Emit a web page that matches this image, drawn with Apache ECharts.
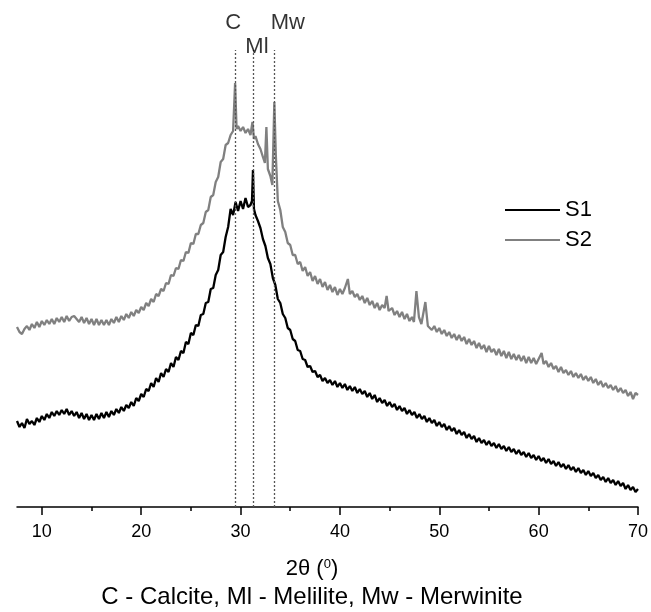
<!DOCTYPE html>
<html>
<head>
<meta charset="utf-8">
<script src="https://cdn.jsdelivr.net/npm/echarts@6/dist/echarts.min.js"></script>
<style>
html,body{margin:0;padding:0;background:#fff;}
#chart{width:651px;height:612px;}
</style>
</head>
<body>
<div id="chart"></div>
<script>
// X-ray diffraction patterns, [2θ (deg), intensity (a.u.)]
const s1 = [[7.5,86],[7.75,80],[8,84],[8.25,79],[8.5,88],[8.75,83],[9,86],[9.25,82],[9.5,89],[9.75,85],
[10,91],[10.25,87],[10.5,93],[10.75,89],[11,95],[11.25,91],[11.5,96],[11.75,92],[12,97],[12.25,93],
[12.5,98],[12.75,92],[13,96],[13.25,91],[13.5,95],[13.75,89],[14,94],[14.25,88],[14.5,93],[14.75,87],
[15,92],[15.25,87],[15.5,93],[15.75,88],[16,94],[16.25,89],[16.5,95],[16.75,90],[17,96],[17.25,92],
[17.5,98],[17.75,94],[18,100],[18.25,96],[18.5,102],[18.75,99],[19,105],[19.25,101],[19.5,109],[19.75,106],
[20,113],[20.25,110],[20.5,118],[20.75,116],[21,124],[21.25,120],[21.5,129],[21.75,125],[22,134],[22.25,130],
[22.5,138],[22.75,135],[23,144],[23.25,140],[23.5,150],[23.75,147],[24,156],[24.25,154],[24.5,165],[24.75,163],
[25,174],[25.25,172],[25.5,182],[25.75,181],[26,192],[26.25,193],[26.5,204],[26.75,205],[27,218],[27.25,219],
[27.5,232],[27.75,237],[28,252],[28.25,255],[28.5,270],[28.75,280],[29,298],[29.25,292],[29.5,305],[29.75,296],
[30,306],[30.25,298],[30.5,309],[30.75,300],[31,302],[31.15,306],[31.25,337],[31.35,298],[31.5,292],[31.75,286],
[32,279],[32.25,268],[32.5,261],[32.75,249],[33,243],[33.25,229],[33.5,222],[33.75,208],[34,204],[34.25,193],
[34.5,189],[34.75,179],[35,177],[35.25,168],[35.5,166],[35.75,157],[36,156],[36.25,148],[36.5,147],[36.75,140],
[37,141],[37.25,135],[37.5,136],[37.75,130],[38,132],[38.25,126],[38.5,129],[38.75,124],[39,127],[39.25,122],
[39.5,126],[39.75,120],[40,124],[40.25,119],[40.5,123],[40.75,117],[41,121],[41.25,116],[41.5,120],[41.75,114],
[42,118],[42.25,113],[42.5,116],[42.75,110],[43,114],[43.25,108],[43.5,112],[43.75,105],[44,109],[44.25,104],
[44.5,107],[44.75,101],[45,105],[45.25,100],[45.5,103],[45.75,97],[46,101],[46.25,96],[46.5,99],[46.75,93],
[47,97],[47.25,92],[47.5,95],[47.75,89],[48,93],[48.25,88],[48.5,91],[48.75,85],[49,89],[49.25,84],
[49.5,87],[49.75,81],[50,85],[50.25,80],[50.5,83],[50.75,77],[51,81],[51.25,76],[51.5,79],[51.75,73],
[52,77],[52.25,72],[52.5,75],[52.75,69],[53,73],[53.25,68],[53.5,71],[53.75,65],[54,69],[54.25,64],
[54.5,67],[54.75,62],[55,66],[55.25,61],[55.5,64],[55.75,59],[56,63],[56.25,58],[56.5,61],[56.75,56],
[57,60],[57.25,55],[57.5,58],[57.75,53],[58,57],[58.25,52],[58.5,55],[58.75,50],[59,54],[59.25,49],
[59.5,52],[59.75,47],[60,51],[60.25,46],[60.5,49],[60.75,44],[61,48],[61.25,43],[61.5,46],[61.75,41],
[62,45],[62.25,40],[62.5,43],[62.75,38],[63,42],[63.25,37],[63.5,40],[63.75,35],[64,39],[64.25,34],
[64.5,37],[64.75,32],[65,36],[65.25,31],[65.5,34],[65.75,29],[66,32],[66.25,27],[66.5,30],[66.75,25],
[67,29],[67.25,24],[67.5,27],[67.75,22],[68,26],[68.25,21],[68.5,24],[68.75,18],[69,22],[69.25,17],
[69.5,20],[69.75,15],[70,18]];

const s2 = [[7.5,180],[7.75,175],[8,173],[8.25,178],[8.5,181],[8.75,177],[9,183],[9.25,179],[9.5,185],[9.75,180],
[10,186],[10.25,182],[10.5,187],[10.75,183],[11,188],[11.25,183],[11.5,189],[11.75,185],[12,190],[12.25,185],
[12.5,191],[12.75,186],[13,190],[13.25,191],[13.5,188],[13.75,185],[14,190],[14.25,184],[14.5,189],[14.75,183],
[15,188],[15.25,182],[15.5,188],[15.75,182],[16,187],[16.25,182],[16.5,187],[16.75,182],[17,188],[17.25,184],
[17.5,190],[17.75,185],[18,191],[18.25,187],[18.5,193],[18.75,189],[19,195],[19.25,191],[19.5,197],[19.75,194],
[20,200],[20.25,197],[20.5,204],[20.75,201],[21,208],[21.25,205],[21.5,213],[21.75,211],[22,218],[22.25,216],
[22.5,224],[22.75,223],[23,232],[23.25,231],[23.5,239],[23.75,238],[24,247],[24.25,246],[24.5,255],[24.75,254],
[25,264],[25.25,263],[25.5,273],[25.75,273],[26,282],[26.25,284],[26.5,295],[26.75,297],[27,310],[27.25,312],
[27.5,325],[27.75,330],[28,345],[28.25,348],[28.5,362],[28.75,364],[29,372],[29.25,376],[29.45,424],[29.6,378],
[29.75,381],[30,376],[30.25,380],[30.5,374],[30.75,378],[31,372],[31.2,385],[31.35,368],[31.5,371],[31.75,363],
[32,358],[32.25,350],[32.45,344],[32.6,380],[32.75,338],[33,331],[33.2,322],[33.4,405],[33.55,352],[33.75,306],
[34,297],[34.25,280],[34.5,275],[34.75,264],[35,262],[35.25,252],[35.5,252],[35.75,243],[36,245],[36.25,236],
[36.5,240],[36.75,231],[37,235],[37.25,226],[37.5,231],[37.75,223],[38,228],[38.25,220],[38.5,225],[38.75,217],
[39,222],[39.25,215],[39.5,220],[39.75,212],[40,218],[40.25,213],[40.5,219],[40.8,228],[41,213],[41.25,216],
[41.5,210],[41.75,213],[42,207],[42.25,211],[42.5,204],[42.75,209],[43,202],[43.25,206],[43.5,199],[43.75,204],
[44,197],[44.25,202],[44.5,199],[44.7,211],[44.9,196],[45.25,199],[45.5,192],[45.75,196],[46,190],[46.25,195],
[46.5,188],[46.75,193],[47,186],[47.25,190],[47.45,185],[47.7,216],[47.95,190],[48.2,183],[48.6,205],[48.85,181],
[49,183],[49.25,177],[49.5,181],[49.75,175],[50,179],[50.25,173],[50.5,177],[50.75,171],[51,175],[51.25,169],
[51.5,173],[51.75,167],[52,172],[52.25,166],[52.5,170],[52.75,163],[53,168],[53.25,162],[53.5,166],[53.75,159],
[54,164],[54.25,158],[54.5,162],[54.75,155],[55,161],[55.25,155],[55.5,158],[55.75,152],[56,158],[56.25,151],
[56.5,156],[56.75,149],[57,155],[57.25,148],[57.5,153],[57.75,147],[58,152],[58.25,146],[58.5,151],[58.75,144],
[59,150],[59.25,144],[59.5,149],[59.75,143],[60,148],[60.3,154],[60.5,143],[60.75,146],[61,140],[61.25,144],
[61.5,138],[61.75,141],[62,135],[62.25,140],[62.5,134],[62.75,137],[63,132],[63.25,136],[63.5,130],[63.75,134],
[64,129],[64.25,133],[64.5,127],[64.75,131],[65,126],[65.25,130],[65.5,124],[65.75,128],[66,122],[66.25,126],
[66.5,120],[66.75,124],[67,119],[67.25,122],[67.5,117],[67.75,121],[68,115],[68.25,119],[68.5,114],[68.75,117],
[69,111],[69.25,115],[69.5,108],[69.75,114],[70,112]];

const seriesNames = ['S1', 'S2'];
const phaseNames = ['C', 'Ml', 'Mw'];
const phaseAngles = [29.45, 31.25, 33.35];
const markerTop = 457;
const phaseLabelLevels = [484, 460, 484];
const xTickValues = [10, 20, 30, 40, 50, 60, 70];
const xMinorTickValues = [15, 25, 35, 45, 55, 65];
const caption = 'C - Calcite, Ml - Melilite, Mw - Merwinite';

const FONT = 'Liberation Sans, Arial, sans-serif';
const chart = echarts.init(document.getElementById('chart'), null, {renderer: 'canvas'});

const labelOffsets = [[-2, 0], [4, 0], [14, 0]];

const option = {
  animation: false,
  backgroundColor: '#ffffff',
  title: [
    {
      text: '{t|2θ (}{sup|0}{t|)}',
      left: 312, top: 558, textAlign: 'center', padding: 0,
      textStyle: {
        fontWeight: 'normal',
        rich: {
          t: {fontFamily: FONT, fontSize: 22, fontWeight: 'normal', color: '#000'},
          sup: {fontFamily: FONT, fontSize: 13, fontWeight: 'normal', color: '#000', verticalAlign: 'top', padding: [0, 0, 9, 0]}
        }
      }
    },
    {
      text: caption,
      left: 312, top: 585, textAlign: 'center', padding: 0,
      textStyle: {fontFamily: FONT, fontSize: 24, fontWeight: 'normal', color: '#000'}
    }
  ],
  legend: {
    orient: 'vertical',
    left: 505, top: 199, padding: 0,
    itemWidth: 55, itemHeight: 2, itemGap: 8,
    icon: 'rect',
    data: seriesNames,
    textStyle: {fontFamily: FONT, fontSize: 22, color: '#000', lineHeight: 22}
  },
  grid: {left: 17, right: 11.5, top: 0, bottom: 105, containLabel: false},
  xAxis: [
    {
      type: 'value', min: 7.5, max: 70,
      axisLine: {show: true, onZero: false, lineStyle: {color: '#000', width: 1.5}},
      axisTick: {show: true, length: 8, customValues: xTickValues, lineStyle: {color: '#000', width: 1.5}},
      axisLabel: {customValues: xTickValues, margin: 16, fontFamily: FONT, fontSize: 18, color: '#000'},
      splitLine: {show: false}
    },
    {
      type: 'value', min: 7.5, max: 70, position: 'bottom',
      axisLine: {show: false},
      axisTick: {show: true, length: 4, customValues: xMinorTickValues, lineStyle: {color: '#000', width: 1.5}},
      axisLabel: {show: false},
      splitLine: {show: false}
    }
  ],
  yAxis: {type: 'value', min: 0, max: 507, show: false, splitLine: {show: false}},
  series: [
    {
      name: seriesNames[0], type: 'line', data: s1, showSymbol: false, symbol: 'none',
      color: '#000000', lineStyle: {color: '#000000', width: 2.3}, z: 3
    },
    {
      name: seriesNames[1], type: 'line', data: s2, showSymbol: false, symbol: 'none',
      color: '#808080', lineStyle: {color: '#808080', width: 2.3}, z: 2
    },
    {
      name: 'phases', type: 'scatter', symbolSize: 0, z: 5,
      data: phaseAngles.map((a, i) => ({value: [a, phaseLabelLevels[i]], name: phaseNames[i],
        label: {offset: labelOffsets[i]}})),
      label: {show: true, position: 'inside', formatter: p => p.name,
        fontFamily: FONT, fontSize: 22, color: '#000'},
      markLine: {
        silent: true, symbol: 'none', animation: false,
        lineStyle: {color: '#555', type: [2, 2], width: 1.3},
        label: {show: false},
        data: phaseAngles.map(a => [{coord: [a, 0]}, {coord: [a, markerTop]}])
      }
    }
  ]
};
chart.setOption(option);
</script>
</body>
</html>
